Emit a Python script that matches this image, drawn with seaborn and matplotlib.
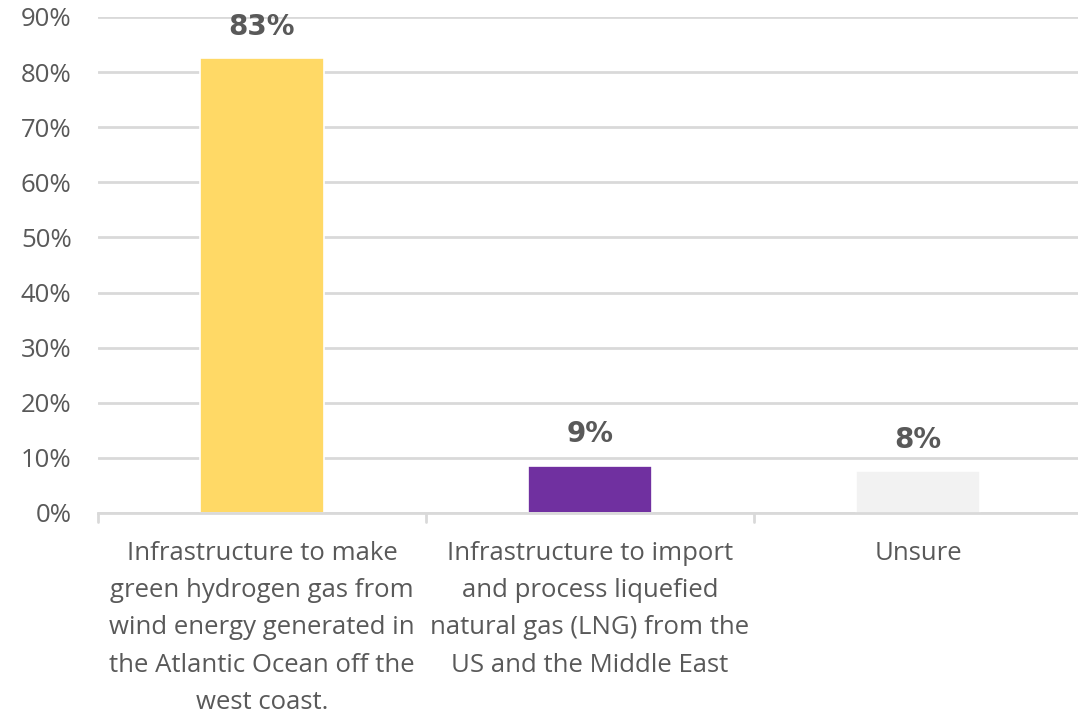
import matplotlib
matplotlib.use("Agg")
import matplotlib.pyplot as plt
import seaborn as sns
import pandas as pd
from matplotlib.ticker import MultipleLocator, FuncFormatter

categories = [
    "Infrastructure to make\ngreen hydrogen gas from\nwind energy generated in\nthe Atlantic Ocean off the\nwest coast.",
    "Infrastructure to import\nand process liquefied\nnatural gas (LNG) from the\nUS and the Middle East",
    "Unsure",
]
values = [82.6, 8.6, 7.6]
colors = ["#FFD966", "#7030A0", "#F2F2F2"]

df = pd.DataFrame({"cat": categories, "val": values})

sns.set_theme(style="white")
plt.rcParams["font.family"] = ["Open Sans", "DejaVu Sans"]

fig = plt.figure(figsize=(10.78, 7.14), dpi=100)
ax = fig.add_axes([98 / 1078, 1 - 513 / 714, 984 / 1078, (513 - 17) / 714])

sns.barplot(data=df, x="cat", y="val", hue="cat", palette=colors, legend=False,
            saturation=1, width=0.38, ax=ax, edgecolor="white", linewidth=1.2, zorder=3)

ax.set_ylim(0, 90)
ax.set_xlim(-0.5, 2.5)
ax.yaxis.set_major_locator(MultipleLocator(10))
ax.yaxis.set_major_formatter(FuncFormatter(lambda v, p: f"{v:.0f}%"))
ax.grid(axis="y", color="#D9D9D9", linewidth=2, zorder=0)
ax.set_axisbelow(True)
for s in ["top", "right", "left"]:
    ax.spines[s].set_visible(False)
ax.spines["bottom"].set_color("#D9D9D9")
ax.spines["bottom"].set_linewidth(2)
ax.spines["bottom"].set_zorder(4)
ax.set_xlabel("")
ax.set_ylabel("")
ax.tick_params(axis="y", length=0, labelsize=18.5, labelcolor="#595959", pad=19)

# category labels (centered) and boundary tick marks
ax.set_xticks(range(len(categories)))
ax.set_xticklabels(categories, fontsize=18.5, color="#595959", linespacing=1.65)
ax.tick_params(axis="x", length=0, pad=20)
for xb in [-0.5, 0.5, 1.5, 2.5]:
    ax.plot([xb, xb], [0, -1.6], color="#D9D9D9", lw=2, clip_on=False, zorder=4)

for i, v in enumerate(values):
    ax.annotate(f"{round(v):.0f}%", (i, v), xytext=(0, 22.5), textcoords="offset points",
                ha="center", va="center", fontsize=20, fontweight="bold", color="#595959",
                family="DejaVu Sans")

fig.savefig("out.png", dpi=100)
